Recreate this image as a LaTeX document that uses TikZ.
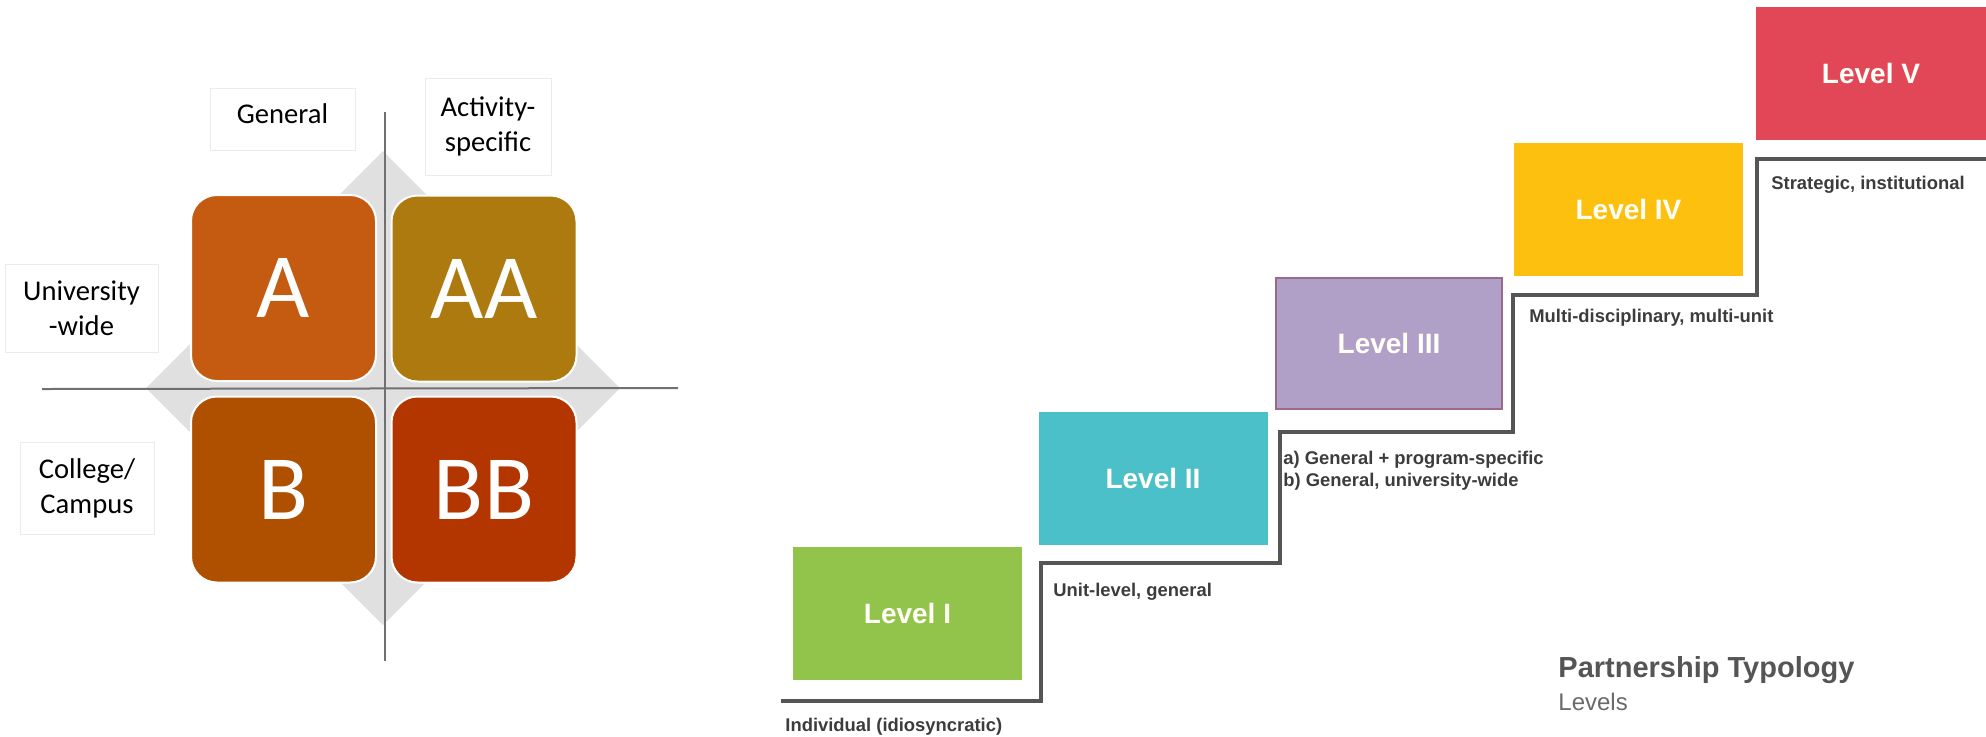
\documentclass[tikz,border=0pt]{standalone}
\usepackage{fontspec}
\setmainfont{Liberation Sans}
\newfontfamily\calibri{Carlito}
\definecolor{cA}{HTML}{C55A11}
\definecolor{cAA}{HTML}{AD7A10}
\definecolor{cB}{HTML}{AF5000}
\definecolor{cBB}{HTML}{B33500}
\definecolor{diam}{HTML}{E0E0E0}
\definecolor{axis}{HTML}{707070}
\definecolor{lblborder}{HTML}{EBEBEB}
\definecolor{lvA}{HTML}{92C34B}
\definecolor{lvB}{HTML}{4BC0C8}
\definecolor{lvC}{HTML}{B09FC7}
\definecolor{lvCb}{HTML}{9A6A8C}
\definecolor{lvD}{HTML}{FEC00E}
\definecolor{lvE}{HTML}{E24757}
\definecolor{stair}{HTML}{555555}
\definecolor{smalltxt}{HTML}{3C3C3C}
\definecolor{titletxt}{HTML}{555555}
\definecolor{subtxt}{HTML}{6A6A6A}
\begin{document}
\begin{tikzpicture}[x=0.5pt,y=-0.5pt,
  quad/.style={draw=white, line width=1pt, rounded corners=13pt,
    minimum width=92.5pt, minimum height=93pt, inner sep=0pt, outer sep=0pt,
    text=white, font=\calibri\fontsize{46}{50}\selectfont},
  lbl/.style={draw=lblborder, line width=0.5pt, fill=white, inner sep=0pt,
    align=center, font=\calibri\fontsize{14.3}{17.5}\selectfont},
  lbltext/.style={inner sep=0pt, align=center, font=\calibri\fontsize{14.3}{17.5}\selectfont},
  lvl/.style={minimum width=114.5pt, minimum height=66.5pt, inner sep=0pt, outer sep=0pt,
    text={white!97!yellow}, font=\bfseries\fontsize{14}{16}\selectfont},
  note/.style={anchor=west, inner sep=0pt, text=smalltxt,
    font=\bfseries\fontsize{9.2}{11}\selectfont, align=left},
  stairline/.style={draw=stair, line width=2pt, line join=miter}
]
\useasboundingbox (0,0) rectangle (1986,736);
% ---------- left: grid matrix ----------
\fill[diam] (383,151) -- (620,388) -- (383,625) -- (146,388) -- cycle;
\node[quad, fill=cA]  (qa)  at (283.5,288)   {A};
\node[quad, fill=cAA] (qaa) at (484,288.5)   {AA};
\node[quad, fill=cB]  (qb)  at (283.5,489.5) {B};
\node[quad, fill=cBB] (qbb) at (484,489.5)   {BB};
\coordinate (vtop) at (385,112);
\coordinate (vbot) at (385,661);
\coordinate (hleft) at (42,389);
\coordinate (hright) at (678,388);
\draw[axis, line width=1pt] (vtop) -- (vbot);
\draw[axis, line width=1pt] (hleft) -- (hright);
\node[lbl, minimum width=72.5pt, minimum height=31pt] (lgen) at (282.5,119) {};
\node[lbltext] (lgent) at (282.5,114) {General};
\node[lbl, minimum width=63pt, minimum height=48.5pt] (lact) at (488,126.5) {Activity-\\specific};
\node[lbl, minimum width=76.5pt, minimum height=44pt] (luni) at (81.5,308) {University\\-wide};
\node[lbl, minimum width=67pt, minimum height=46pt] (lcol) at (87,488) {College/\\Campus};
% ---------- right: partnership levels ----------
\node[lvl, fill=lvA] (l1) at (907.5,613.5) {Level I};
\node[lvl, fill=lvB] (l2) at (1153,478.5) {Level II};
\node[lvl, fill=lvC, draw=lvCb, line width=0.6pt, minimum width=113pt, minimum height=65.5pt] (l3) at (1389,343.5) {Level III};
\node[lvl, fill=lvD] (l4) at (1628.5,209) {Level IV};
\node[lvl, fill=lvE, minimum width=115pt] (l5) at (1871,73.5) {Level V};
\coordinate (s0) at (781,701);
\coordinate (s1) at (1041,701);
\coordinate (s2) at (1041,563);
\coordinate (s3) at (1280,563);
\coordinate (s4) at (1280,432);
\coordinate (s5) at (1513,432);
\coordinate (s6) at (1513,295);
\coordinate (s7) at (1757,295);
\coordinate (s8) at (1757,159);
\coordinate (s9) at (1986,159);
\draw[stairline] (s0) -- (s1) -- (s2) -- (s3) -- (s4) -- (s5) -- (s6) -- (s7) -- (s8) -- (s9);
\node[note] (t1) at (785,727) {Individual (idiosyncratic)};
\node[note] (t2) at (1053,592) {Unit-level, general};
\node[note] (t3) at (1283,471) {a) General + program-specific\\b) General, university-wide};
\node[note] (t4) at (1529,318) {Multi-disciplinary, multi-unit};
\node[note] (t5) at (1771,185) {Strategic, institutional};
\node[anchor=west, inner sep=0pt, text=titletxt, font=\bfseries\fontsize{14.5}{17}\selectfont] (title) at (1558,670) {Partnership Typology};
\node[anchor=west, inner sep=0pt, text=subtxt, font=\fontsize{12}{14}\selectfont] (sub) at (1558,702) {Levels};
\end{tikzpicture}
\end{document}
